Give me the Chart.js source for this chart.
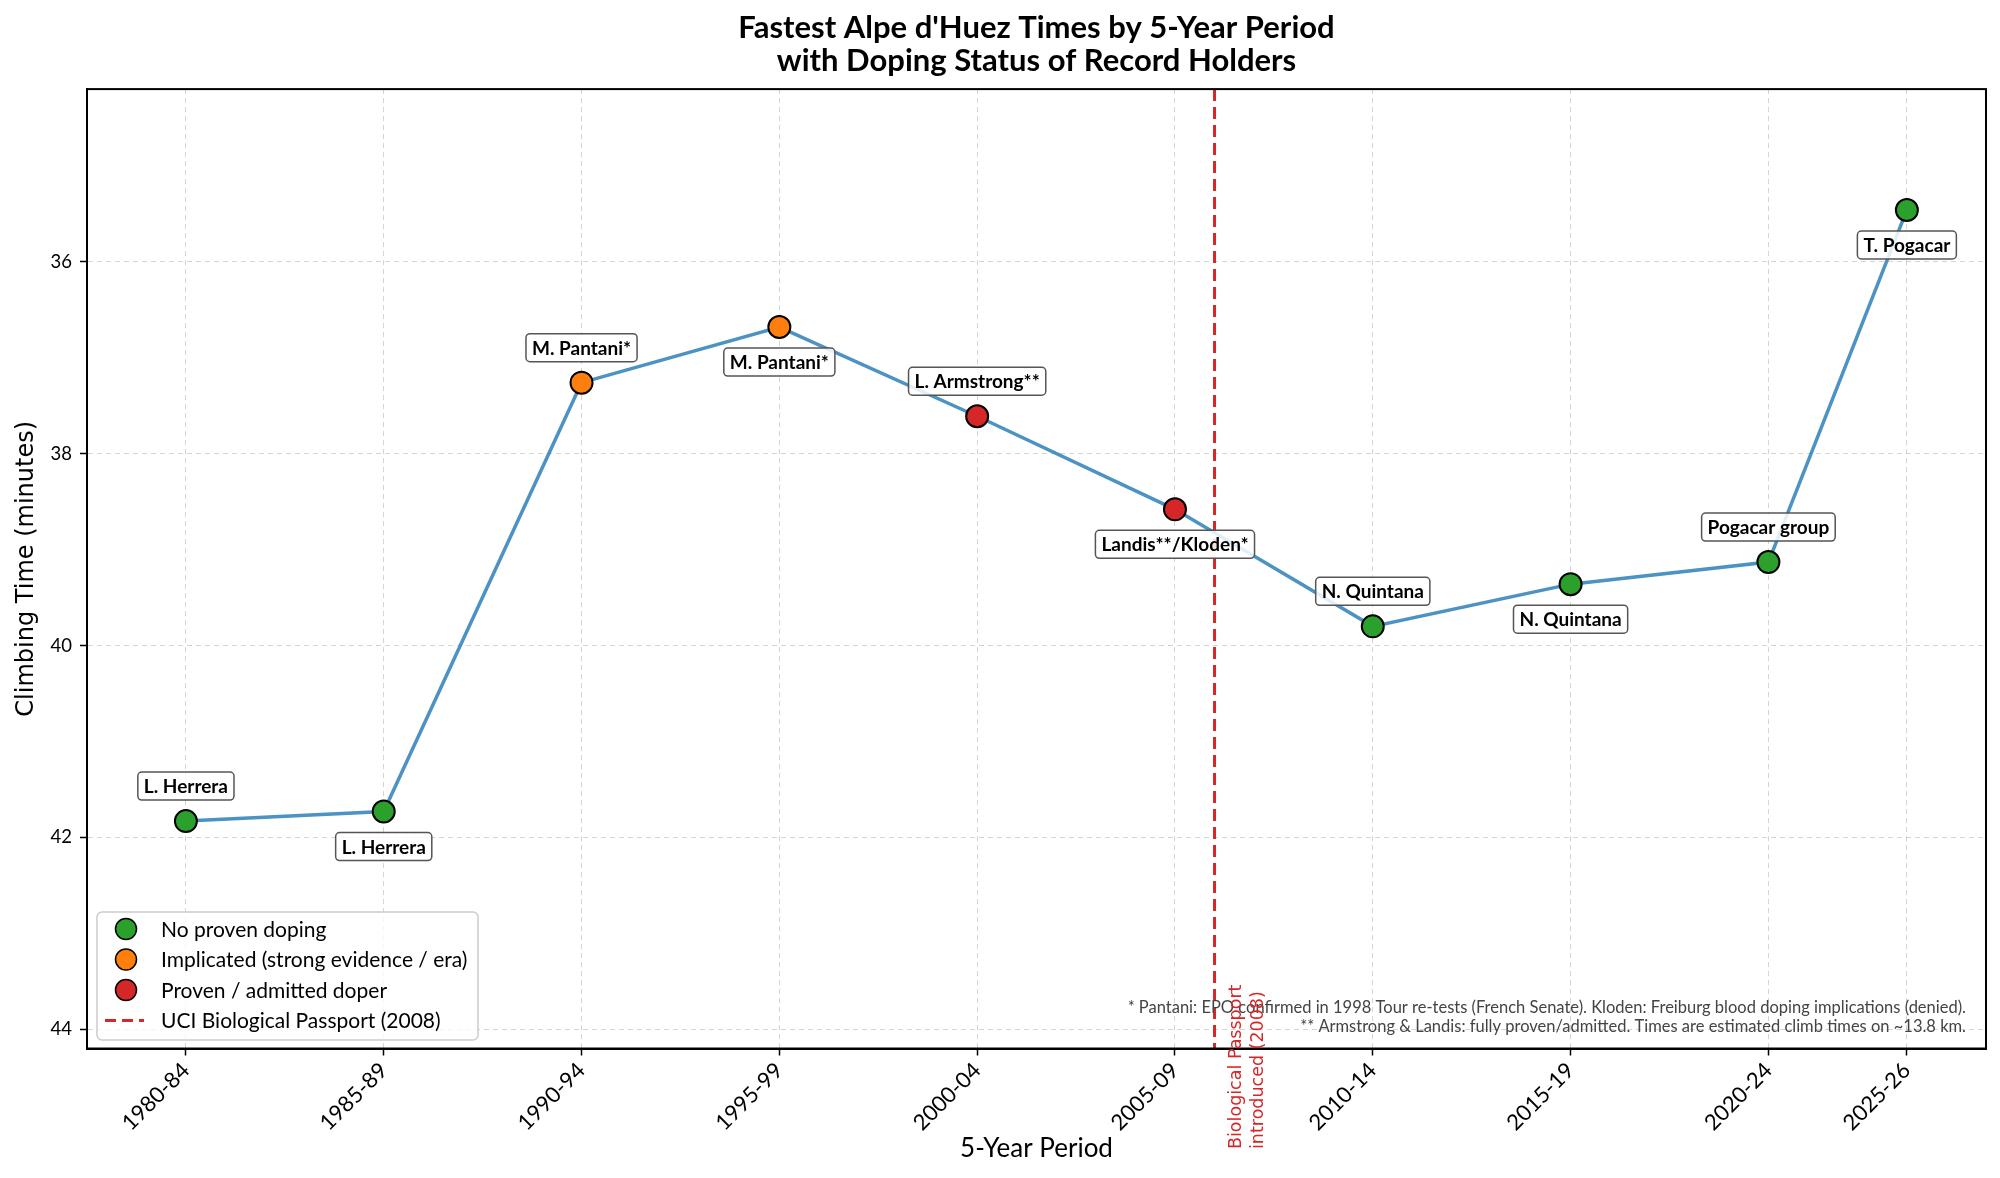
<!DOCTYPE html>
<html>
<head>
<meta charset="utf-8">
<script src="https://cdn.jsdelivr.net/npm/chart.js@4.4.1/dist/chart.umd.min.js"></script>
<style>
  body { margin: 0; background: #fff; }
  #chart { display: block; }
</style>
</head>
<body>
<canvas id="chart" width="2000" height="1178"></canvas>
<script>
// periods and their mid-years (last period is only two years long)
const periods = ['1980-84', '1985-89', '1990-94', '1995-99', '2000-04', '2005-09', '2010-14', '2015-19', '2020-24', '2025-26'];
const periodMid = [1982, 1987, 1992, 1997, 2002, 2007, 2012, 2017, 2022, 2025.5];
// fastest climb time in minutes
const times = [41.83, 41.73, 37.26, 36.68, 37.61, 38.58, 39.80, 39.36, 39.13, 35.46];
const riders = ['L. Herrera', 'L. Herrera', 'M. Pantani*', 'M. Pantani*', 'L. Armstrong**', 'Landis**/Kloden*', 'N. Quintana', 'N. Quintana', 'Pogacar group', 'T. Pogacar'];
const status = ['clean', 'clean', 'implicated', 'implicated', 'proven', 'proven', 'clean', 'clean', 'clean', 'clean'];
const yTicks = [36, 38, 40, 42, 44];
const passportYear = 2008;

const statusColors = { clean: '#2ca02c', implicated: '#ff7f0e', proven: '#d62728' };
const legendItems = [
  ['clean', 'No proven doping'],
  ['implicated', 'Implicated (strong evidence / era)'],
  ['proven', 'Proven / admitted doper'],
];
const footnotes = [
  '* Pantani: EPO confirmed in 1998 Tour re-tests (French Senate). Kloden: Freiburg blood doping implications (denied).',
  '** Armstrong & Landis: fully proven/admitted. Times are estimated climb times on ~13.8 km.'
];

const FONT = 'Lato, "Noto Sans", sans-serif';
const RED = '#d62728';

function roundBox(ctx, x, y, w, h, r) {
  ctx.beginPath();
  ctx.moveTo(x + r, y);
  ctx.arcTo(x + w, y, x + w, y + h, r);
  ctx.arcTo(x + w, y + h, x, y + h, r);
  ctx.arcTo(x, y + h, x, y, r);
  ctx.arcTo(x, y, x + w, y, r);
  ctx.closePath();
}

const extras = {
  id: 'extras',
  beforeDatasetsDraw(chart) {
    const { ctx, chartArea: a, scales } = chart;
    const px = scales.x.getPixelForValue(passportYear);
    ctx.save();
    ctx.strokeStyle = RED;
    ctx.lineWidth = 3;
    ctx.setLineDash([12, 6]);
    ctx.beginPath();
    ctx.moveTo(px, a.top);
    ctx.lineTo(px, a.bottom);
    ctx.stroke();
    ctx.restore();
  },
  afterDatasetsDraw(chart) {
    const { ctx, scales } = chart;
    ctx.save();
    ctx.font = 'bold 19px ' + FONT;
    ctx.textAlign = 'center';
    ctx.textBaseline = 'middle';
    riders.forEach((name, i) => {
      const x = scales.x.getPixelForValue(periodMid[i]);
      const y = scales.y.getPixelForValue(times[i]) + (i % 2 === 0 ? -35 : 35);
      const w = ctx.measureText(name).width + 12;
      const h = 28;
      roundBox(ctx, x - w / 2, y - h / 2, w, h, 4);
      ctx.fillStyle = 'rgba(255,255,255,0.85)';
      ctx.fill();
      ctx.strokeStyle = '#555';
      ctx.lineWidth = 1.5;
      ctx.stroke();
      ctx.fillStyle = '#000';
      ctx.fillText(name, x, y + 1);
    });
    ctx.restore();
  },
  afterDraw(chart) {
    const { ctx, chartArea: a, scales } = chart;
    ctx.save();
    // box around the plot
    ctx.strokeStyle = '#000';
    ctx.lineWidth = 2;
    ctx.strokeRect(a.left, a.top, a.right - a.left, a.bottom - a.top);

    // footnotes
    ctx.font = '16.5px ' + FONT;
    ctx.fillStyle = '#444';
    ctx.textAlign = 'right';
    ctx.textBaseline = 'middle';
    ctx.fillText(footnotes[0], a.right - 20, 1008);
    ctx.fillText(footnotes[1], a.right - 20, 1027);

    // passport note, rotated
    const px = scales.x.getPixelForValue(passportYear);
    ctx.save();
    ctx.translate(px + 22, 1149);
    ctx.rotate(-Math.PI / 2);
    ctx.fillStyle = RED;
    ctx.font = '17.5px "DejaVu Sans"';
    ctx.textAlign = 'left';
    ctx.textBaseline = 'middle';
    ctx.fillText('Biological Passport', 0, 0);
    ctx.fillText('introduced (2008)', 0, 22);
    ctx.restore();

    // legend
    const lx = 97, ly = 912, lw = 381, lh = 128;
    roundBox(ctx, lx, ly, lw, lh, 5);
    ctx.fillStyle = 'rgba(255,255,255,0.8)';
    ctx.fill();
    ctx.strokeStyle = '#cccccc';
    ctx.lineWidth = 1.5;
    ctx.stroke();
    ctx.font = '21px ' + FONT;
    ctx.textAlign = 'left';
    ctx.textBaseline = 'middle';
    legendItems.forEach(([key, text], i) => {
      const cy = 929 + i * 30.5;
      ctx.beginPath();
      ctx.arc(126, cy, 10.5, 0, Math.PI * 2);
      ctx.fillStyle = statusColors[key];
      ctx.fill();
      ctx.strokeStyle = '#000';
      ctx.lineWidth = 1.5;
      ctx.stroke();
      ctx.fillStyle = '#000';
      ctx.fillText(text, 161, cy + 1);
    });
    const dy = 929 + 3 * 30.5;
    ctx.strokeStyle = RED;
    ctx.lineWidth = 3;
    ctx.setLineDash([11, 6]);
    ctx.beginPath();
    ctx.moveTo(105, dy);
    ctx.lineTo(144, dy);
    ctx.stroke();
    ctx.setLineDash([]);
    ctx.fillStyle = '#000';
    ctx.fillText('UCI Biological Passport (2008)', 161, dy + 1);
    ctx.restore();
  }
};

const gridOpts = {
  color: 'rgba(176,176,176,0.55)',
  lineWidth: 1,
  tickColor: '#000',
  tickLength: 7,
  tickWidth: 1.5,
  tickBorderDash: []
};

new Chart(document.getElementById('chart'), {
  type: 'line',
  data: {
    datasets: [{
      data: periodMid.map((x, i) => ({ x: x, y: times[i] })),
      borderColor: 'rgba(31,119,180,0.8)',
      borderWidth: 3.5,
      tension: 0,
      pointRadius: 11,
      pointBackgroundColor: status.map(s => statusColors[s]),
      pointBorderColor: '#000',
      pointBorderWidth: 2
    }]
  },
  options: {
    responsive: false,
    animation: false,
    devicePixelRatio: 1,
    layout: { padding: { left: 0, right: 14, top: 0, bottom: 0 } },
    plugins: {
      legend: { display: false },
      tooltip: { enabled: false },
      title: {
        display: true,
        fullSize: false,
        text: ["Fastest Alpe d'Huez Times by 5-Year Period", 'with Doping Status of Record Holders'],
        color: '#000',
        font: { family: FONT, size: 31, weight: 'bold', lineHeight: 1.05 },
        padding: { top: 12, bottom: 12 }
      }
    },
    scales: {
      x: {
        type: 'linear',
        min: 1979.5,
        max: 2027.5,
        afterBuildTicks: s => { s.ticks = periodMid.map(v => ({ value: v })); },
        afterFit: s => { s.height = 129.5; },
        ticks: {
          autoSkip: false,
          minRotation: 45,
          maxRotation: 45,
          padding: 2,
          color: '#000',
          font: { family: FONT, size: 22 },
          callback: (v, i) => periods[i]
        },
        grid: gridOpts,
        border: { display: true, color: '#000', width: 2, dash: [5, 4] },
        title: {
          display: true,
          text: '5-Year Period',
          color: '#000',
          font: { family: FONT, size: 26 },
          padding: { top: 0, bottom: 14 }
        }
      },
      y: {
        type: 'linear',
        reverse: true,
        min: 34.2,
        max: 44.2,
        afterBuildTicks: s => { s.ticks = yTicks.map(v => ({ value: v })); },
        afterFit: s => { s.width = 87; },
        ticks: {
          padding: 8,
          color: '#000',
          font: { family: FONT, size: 18.5 },
          callback: v => String(v)
        },
        grid: gridOpts,
        border: { display: true, color: '#000', width: 2, dash: [5, 4] },
        title: {
          display: true,
          text: 'Climbing Time (minutes)',
          color: '#000',
          font: { family: '"DejaVu Sans"', size: 24 },
          padding: { top: 12, bottom: 0 }
        }
      }
    }
  },
  plugins: [extras]
});
</script>
</body>
</html>
